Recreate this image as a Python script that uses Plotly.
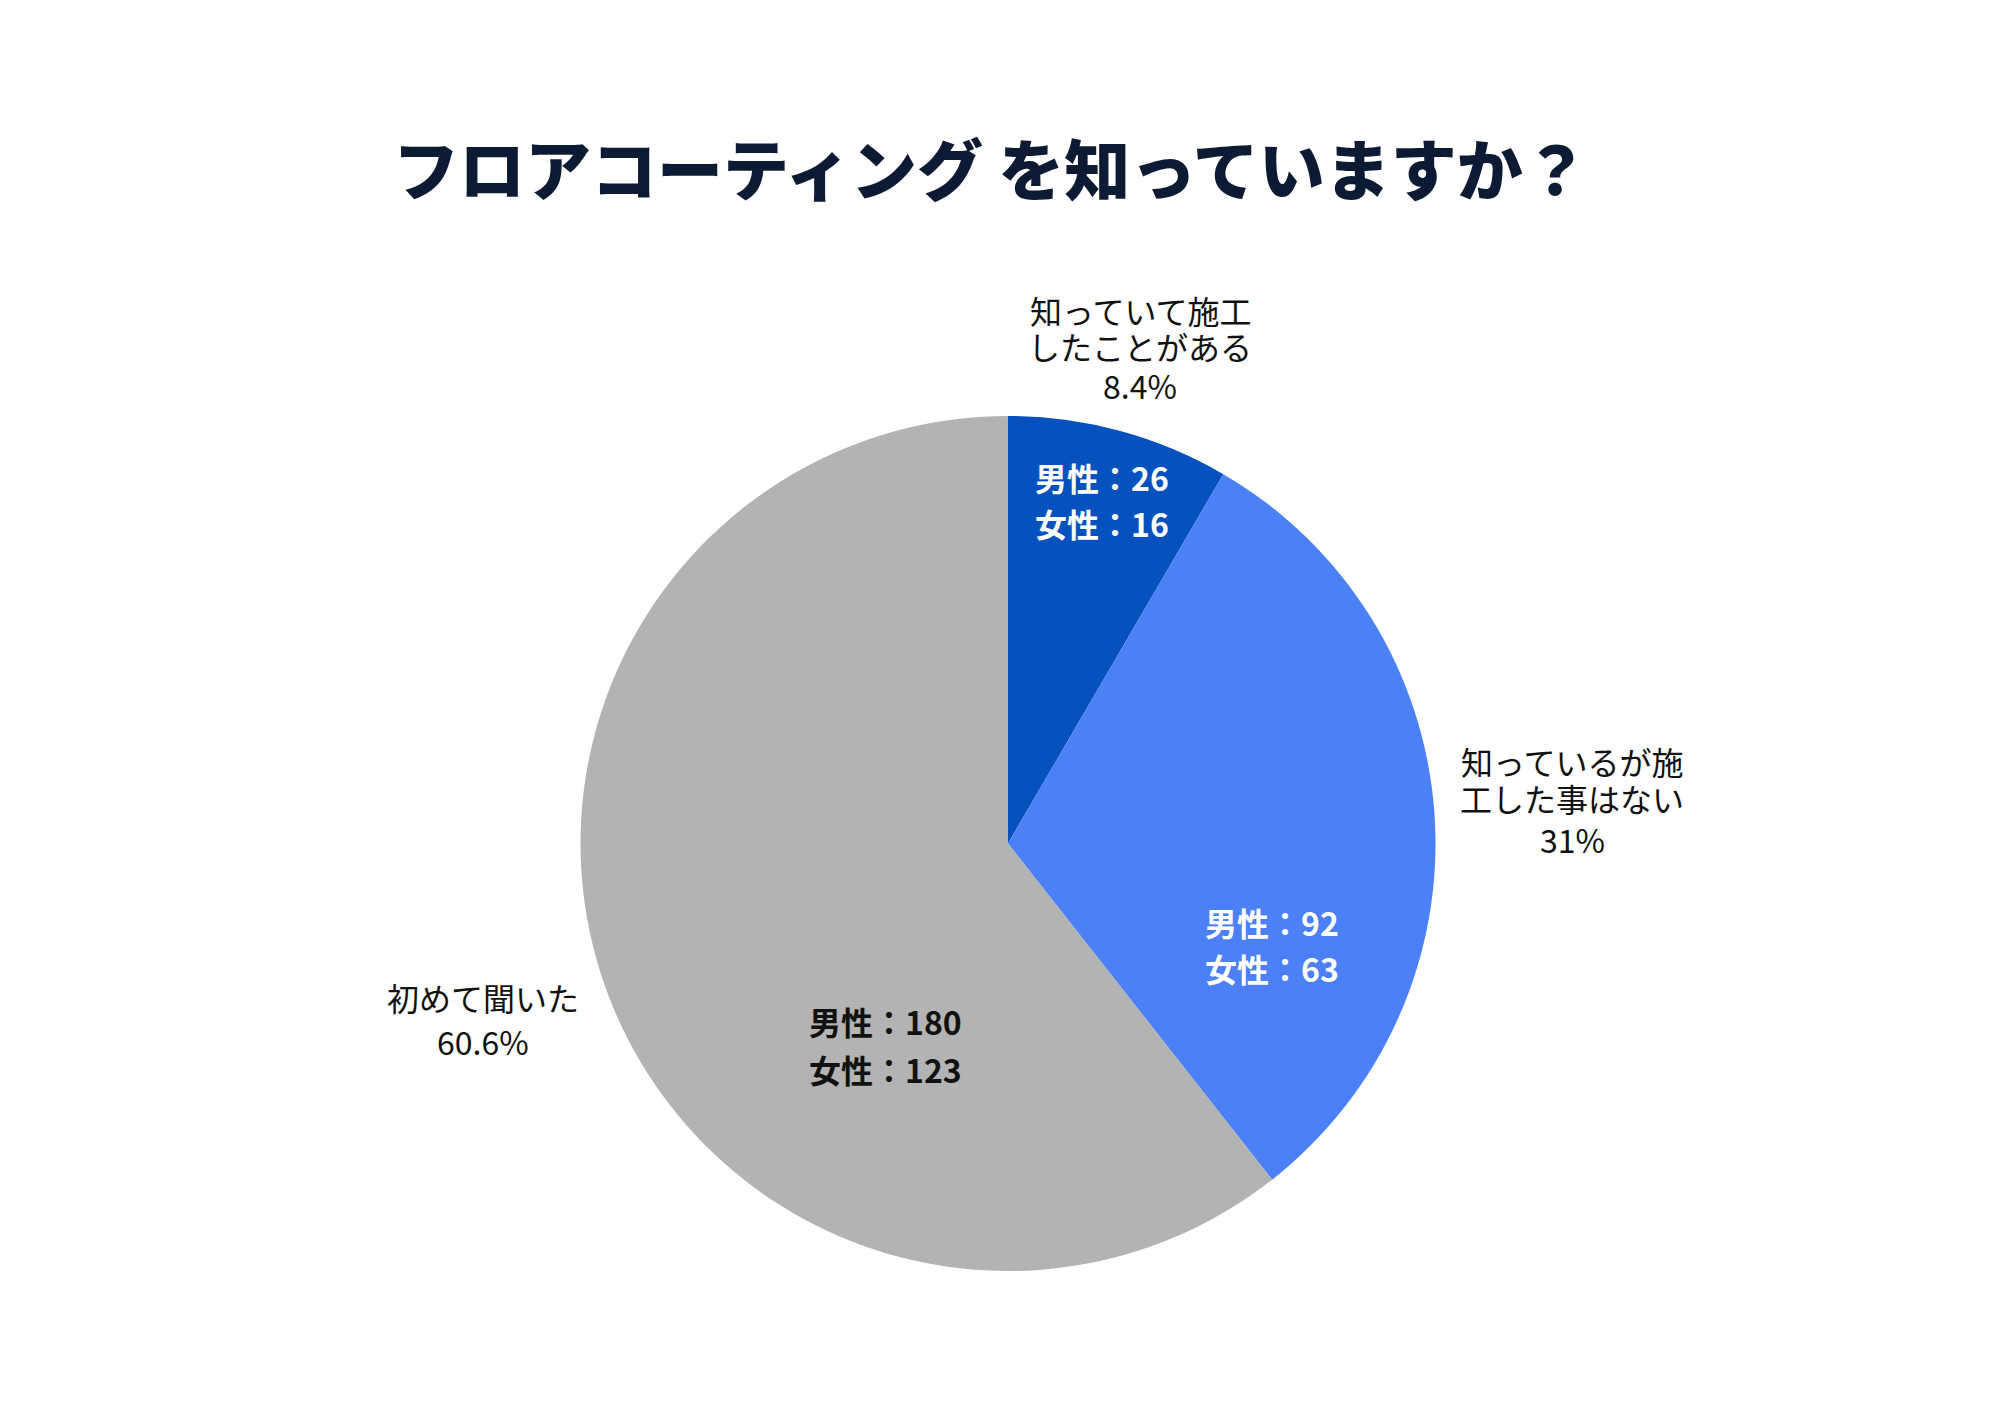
import plotly.graph_objects as go

# data
categories = [["知っていて施工", "したことがある"],
              ["知っているが施", "工した事はない"],
              ["初めて聞いた"]]
male = [26, 92, 180]
female = [16, 63, 123]
colors = ["#0552BF", "#4B80F6", "#B3B3B3"]
inside_text_colors = ["white", "white", "#111111"]

totals = [m + f for m, f in zip(male, female)]
grand = sum(totals)
pct = []
for t in totals:
    s = "%.1f" % (t / grand * 100)
    if s.endswith(".0"):
        s = s[:-2]
    pct.append(s + "%")

W, H = 2000, 1414
# CJK glyphs sit a bit low inside plotly's text box, so nudge up
Y_NUDGE = 8


def px(x, y):
    # pixel position -> paper coords
    return x / W, 1 - (y - Y_NUDGE) / H


fig = go.Figure(go.Pie(
    values=totals,
    labels=["".join(c) for c in categories],
    marker=dict(colors=colors, line=dict(width=0)),
    sort=False,
    direction="clockwise",
    rotation=0,
    textinfo="none",
    hoverinfo="label+percent",
    showlegend=False,
    domain=dict(x=[572.5 / W, 1427.5 / W], y=[1 - 1263 / H, 1 - 408 / H]),
))

label_font = dict(family="Noto Sans CJK JP", size=32, color="#111111")
inner_font = dict(family="Noto Sans CJK JP", size=32)

# outside labels: x centre and y of each line (tight spacing as in the source)
outside_pos = [
    (1132, [310, 346, 385]),
    (1564, [761, 798, 839]),
    (475, [997, 1041]),
]
# inside labels: x centre, y of male line, y of female line
inside_pos = [
    (1094, 477, 523),
    (1264, 922, 968),
    (877, 1021, 1069),
]

for i in range(len(categories)):
    lines = categories[i] + [pct[i]]
    cx, ys = outside_pos[i]
    for line, y in zip(lines, ys):
        x0, y0 = px(cx, y)
        fig.add_annotation(x=x0, y=y0, xref="paper", yref="paper",
                           text=line, showarrow=False,
                           xanchor="center", yanchor="middle",
                           borderpad=0, font=label_font)
    ix, ym, yf = inside_pos[i]
    for txt, y in [("<b>男性：%d</b>" % male[i], ym), ("<b>女性：%d</b>" % female[i], yf)]:
        x0, y0 = px(ix, y)
        fig.add_annotation(x=x0, y=y0, xref="paper", yref="paper",
                           text=txt, showarrow=False,
                           xanchor="center", yanchor="middle",
                           borderpad=0,
                           font=dict(inner_font, color=inside_text_colors[i]))

tx, ty = px(983, 166)
fig.add_annotation(x=tx, y=ty, xref="paper", yref="paper",
                   text="フロアコーティング を知っていますか？", showarrow=False,
                   xanchor="center", yanchor="middle",
                   font=dict(family="Noto Sans CJK JP", size=66, color="#0D1A33",
                             weight=900))

fig.update_layout(
    width=W, height=H,
    margin=dict(l=0, r=0, t=0, b=0),
    paper_bgcolor="white",
    plot_bgcolor="white",
)

fig.write_html("out.html")
